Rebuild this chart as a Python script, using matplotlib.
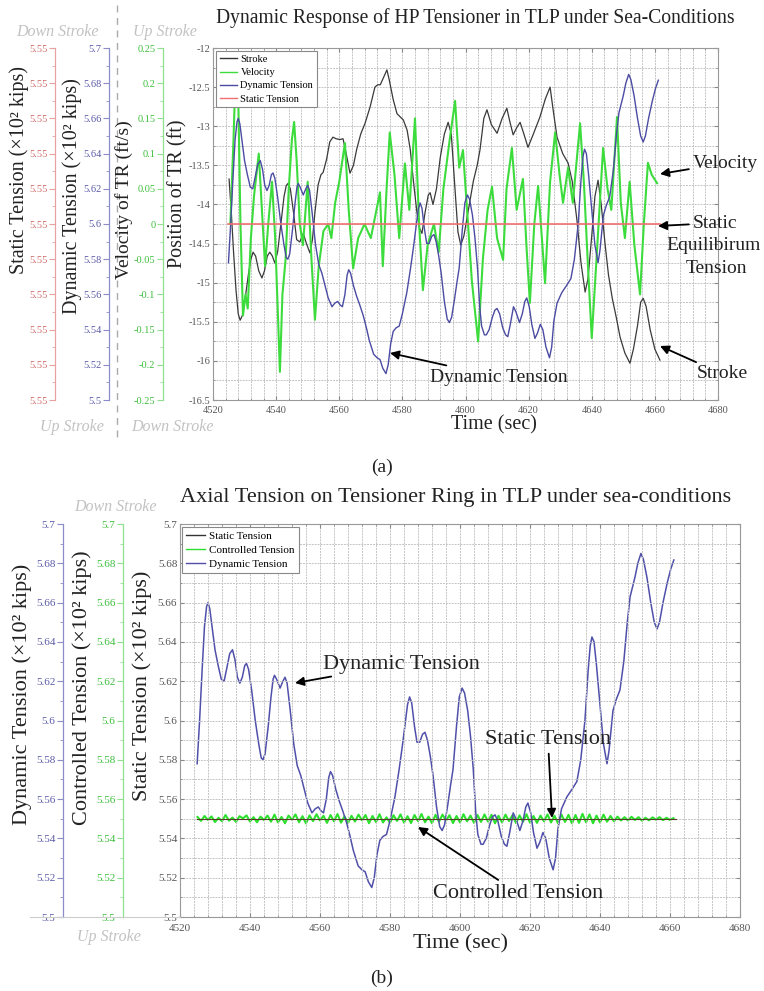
import matplotlib
matplotlib.use('Agg')
import matplotlib.pyplot as plt
import numpy as np
from matplotlib.ticker import MultipleLocator, FuncFormatter, FixedLocator
from matplotlib.lines import Line2D

plt.rcParams['font.family'] = ['Liberation Serif', 'DejaVu Serif']
plt.rcParams['axes.unicode_minus'] = False

W, H = 764, 991
fig = plt.figure(figsize=(W / 100, H / 100), dpi=100)

# ---------------- data ----------------
TIME_TICKS = [4520, 4540, 4560, 4580, 4600, 4620, 4640, 4660, 4680]

STROKE_T = [4525.1, 4525.8, 4526.5, 4527.3, 4528.0, 4528.6, 4529.3, 4530.2, 4531.2, 4532.0,
            4532.7, 4533.5, 4534.5, 4535.5, 4536.3, 4537.2, 4538.0, 4538.8, 4539.6, 4540.5,
            4541.5, 4542.5, 4543.2, 4543.8, 4544.5, 4545.5, 4546.5, 4547.5, 4548.6, 4549.6,
            4550.7, 4551.5, 4552.3, 4553.3, 4554.2, 4554.9, 4556.0, 4557.0, 4558.0, 4559.0,
            4560.2, 4561.2, 4562.2, 4563.4, 4564.5, 4565.5, 4566.8, 4568.2, 4569.8, 4571.3,
            4572.2, 4573.0, 4574.0, 4575.1, 4575.8, 4577.1, 4578.3, 4579.3, 4580.3, 4581.5,
            4582.5, 4583.5, 4584.6, 4585.4, 4586.2, 4587.2, 4588.2, 4588.8, 4589.7, 4590.8,
            4592.0, 4593.3, 4594.5, 4595.5, 4596.5, 4597.6, 4598.5, 4599.5, 4601.0, 4602.5,
            4603.7, 4604.6, 4605.8, 4606.8, 4608.2, 4610.0, 4611.6, 4613.1, 4614.1, 4615.1,
            4616.2, 4617.3, 4618.5, 4619.8, 4621.5, 4623.6, 4625.3, 4626.8, 4627.8, 4629.0,
            4630.8, 4632.5, 4633.8, 4635.3, 4636.6, 4637.9, 4638.8, 4640.0, 4641.0, 4642.0,
            4643.0, 4644.2, 4645.3, 4646.5, 4647.8, 4649.0, 4650.5, 4652.1, 4653.2, 4654.5,
            4655.5, 4656.3, 4657.2, 4658.5, 4660.0, 4661.6]
STROKE_FT = [-13.675, -14.1, -14.6, -15.1, -15.4, -15.48, -15.42, -15.2, -14.9, -14.7,
             -14.61, -14.66, -14.85, -14.94, -14.85, -14.66, -14.61, -14.66, -14.75, -14.6,
             -14.25, -13.9, -13.76, -13.73, -13.8, -14.1, -14.45, -14.48, -14.37, -14.5,
             -14.62, -14.45, -14.1, -13.75, -13.62, -13.59, -13.42, -13.2, -13.14, -13.16,
             -13.17, -13.16, -13.35, -13.6, -13.5, -13.3, -13.1, -12.96, -12.75, -12.5,
             -12.47, -12.47, -12.38, -12.28, -12.4, -12.66, -12.84, -12.88, -12.92, -13.05,
             -13.3, -13.7, -14.1, -14.3, -14.37, -14.1, -13.88, -13.85, -14.0, -13.8,
             -13.4, -13.1, -12.95, -13.1, -13.7, -14.35, -14.52, -14.4, -14.05, -13.7,
             -13.5, -13.3, -12.9, -12.79, -12.98, -13.09, -12.9, -12.77, -12.95, -13.11,
             -13.02, -12.95, -13.1, -13.27, -13.1, -12.88, -12.65, -12.5, -12.8, -13.14,
             -13.35, -13.47, -13.7, -14.2, -14.75, -15.12, -14.95, -14.4, -13.9, -13.69,
             -14.0, -14.5, -14.9, -15.2, -15.45, -15.7, -15.9, -16.03, -15.85, -15.55,
             -15.25, -15.2, -15.3, -15.6, -15.85, -15.99]

VEL_T = [4525.5, 4526.5, 4527.3, 4528.0, 4528.7, 4529.5, 4530.3, 4531.0, 4532.0, 4533.0,
         4534.5, 4535.5, 4536.5, 4537.5, 4538.7, 4539.7, 4540.5, 4541.2, 4542.0, 4543.0,
         4544.0, 4545.0, 4545.7, 4546.5, 4547.5, 4548.5, 4550.0, 4551.2, 4552.3, 4553.5,
         4555.0, 4556.5, 4557.5, 4558.7, 4560.0, 4561.8, 4563.0, 4564.4, 4566.0, 4568.0,
         4570.0, 4572.9, 4573.8, 4575.0, 4576.0, 4577.5, 4579.0, 4580.8, 4582.2, 4584.0,
         4585.3, 4586.5, 4588.0, 4590.0, 4591.5, 4593.0, 4595.0, 4596.7, 4598.0, 4599.2,
         4600.5, 4602.0, 4604.0, 4605.5, 4607.0, 4608.4, 4610.0, 4611.9, 4613.0, 4614.7,
         4616.2, 4618.2, 4619.3, 4620.4, 4621.8, 4623.0, 4624.2, 4625.2, 4626.8, 4628.4,
         4629.8, 4630.9, 4632.5, 4634.0, 4636.3, 4637.5, 4638.8, 4640.0, 4641.5, 4643.6,
         4645.0, 4646.2, 4648.0, 4649.2, 4650.5, 4652.0, 4653.5, 4655.3, 4656.5, 4657.8,
         4659.0, 4660.7]
VEL_FTS = [0.0, 0.12, 0.24, 0.18, 0.0, -0.13, -0.10, -0.12, -0.02, 0.04,
           0.10, 0.02, -0.06, 0.0, 0.06, -0.02, -0.12, -0.21, -0.10, -0.05,
           0.05, 0.12, 0.145, 0.09, 0.0, -0.03, 0.06, -0.05, -0.136, -0.06,
           -0.01, 0.0, -0.02, 0.03, 0.06, 0.115, 0.02, -0.063, -0.02, 0.0,
           -0.02, 0.045, -0.06, 0.05, 0.13, 0.07, -0.02, 0.086, 0.02, 0.15,
           0.0, -0.094, -0.03, 0.0, -0.04, 0.05, 0.12, 0.175, 0.08, 0.105,
           0.02, -0.08, -0.167, -0.05, 0.02, 0.053, -0.02, -0.051, 0.05, 0.108,
           0.02, 0.064, -0.03, -0.112, 0.0, 0.054, -0.02, -0.084, 0.06, 0.13,
           0.07, 0.03, 0.08, 0.03, 0.143, 0.06, -0.06, -0.162, -0.05, 0.108,
           0.05, 0.02, 0.152, 0.03, -0.02, 0.06, -0.03, -0.10, 0.0, 0.087,
           0.07, 0.058]

DYN_T = [4524.9, 4525.6, 4526.3, 4527.0, 4527.6, 4528.0, 4528.5, 4529.2, 4530.0, 4530.9,
         4531.8, 4532.6, 4533.3, 4534.2, 4535.0, 4535.7, 4536.4, 4537.1, 4537.8, 4538.5,
         4539.0, 4539.6, 4540.5, 4541.5, 4542.5, 4543.2, 4543.7, 4544.3, 4545.2, 4546.0,
         4546.6, 4547.0, 4547.6, 4548.6, 4549.4, 4550.0, 4550.6, 4551.5, 4552.5, 4553.5,
         4554.5, 4555.5, 4556.5, 4557.7, 4558.6, 4559.5, 4560.3, 4561.0, 4561.8, 4562.5,
         4563.0, 4563.6, 4564.5, 4565.5, 4566.5, 4567.6, 4568.6, 4569.5, 4570.9, 4572.0,
         4572.9, 4573.8, 4574.8, 4575.5, 4576.3, 4577.1, 4578.0, 4579.0, 4580.0, 4581.4,
         4582.6, 4583.6, 4584.3, 4585.0, 4585.6, 4586.2, 4587.0, 4587.7, 4588.5, 4589.3,
         4590.0, 4590.7, 4591.5, 4592.3, 4593.3, 4594.2, 4594.9, 4595.6, 4596.5, 4597.3,
         4598.0, 4599.0, 4599.8, 4600.6, 4601.3, 4602.2, 4603.0, 4603.8, 4604.5, 4605.1,
         4606.0, 4606.6, 4607.5, 4608.5, 4609.3, 4610.0, 4610.8, 4611.8, 4612.7, 4613.4,
         4614.2, 4615.2, 4616.0, 4617.1, 4618.0, 4618.8, 4619.4, 4620.2, 4621.0, 4622.0,
         4622.8, 4623.7, 4624.5, 4625.5, 4626.6, 4627.3, 4628.0, 4629.0, 4630.5, 4632.0,
         4633.4, 4634.5, 4635.7, 4636.6, 4637.2, 4637.7, 4638.3, 4639.0, 4640.0, 4641.0,
         4642.0, 4642.6, 4643.7, 4644.7, 4645.7, 4646.8, 4647.8, 4648.6, 4649.3, 4650.0,
         4650.8, 4651.7, 4652.4, 4653.4, 4654.5, 4655.5, 4656.3, 4657.0, 4658.0, 4659.2,
         4660.2, 4661.1]
DYN_KIPS100 = [5.578, 5.600, 5.625, 5.648, 5.658, 5.660, 5.657, 5.647, 5.636, 5.628,
               5.621, 5.620, 5.626, 5.634, 5.636, 5.631, 5.622, 5.619, 5.622, 5.628,
               5.629, 5.626, 5.615, 5.600, 5.588, 5.581, 5.580, 5.583, 5.597, 5.612,
               5.621, 5.623, 5.621, 5.6165, 5.620, 5.622, 5.619, 5.605, 5.588, 5.577,
               5.572, 5.565, 5.558, 5.553, 5.555, 5.556, 5.554, 5.553, 5.560, 5.571,
               5.574, 5.572, 5.565, 5.559, 5.554, 5.548, 5.541, 5.534, 5.526, 5.524,
               5.523, 5.518, 5.515, 5.520, 5.532, 5.539, 5.541, 5.542, 5.549, 5.561,
               5.575, 5.588, 5.598, 5.608, 5.612, 5.609, 5.597, 5.589, 5.589, 5.593,
               5.594, 5.590, 5.582, 5.572, 5.556, 5.546, 5.544, 5.547, 5.557, 5.567,
               5.575, 5.597, 5.612, 5.6165, 5.614, 5.605, 5.592, 5.575, 5.553, 5.542,
               5.537, 5.537, 5.540, 5.547, 5.551, 5.552, 5.549, 5.541, 5.537, 5.536,
               5.543, 5.553, 5.550, 5.544, 5.549, 5.556, 5.558, 5.553, 5.543, 5.535,
               5.538, 5.543, 5.540, 5.530, 5.524, 5.530, 5.545, 5.555, 5.561, 5.565,
               5.569, 5.580, 5.600, 5.625, 5.638, 5.6425, 5.640, 5.628, 5.608, 5.588,
               5.578, 5.585, 5.605, 5.611, 5.6155, 5.630, 5.650, 5.663, 5.668, 5.673,
               5.680, 5.685, 5.682, 5.673, 5.660, 5.650, 5.6466, 5.650, 5.660, 5.670,
               5.677, 5.6817]

STATIC_T = [4524.8, 4661.6]
STATIC_KIPS100 = [5.55, 5.55]

CTRL_T0, CTRL_DT = 4525, 1.0
CTRL_DEV_1E3 = [0.9, -1.1, 1.4, -0.6, 1.2, -1.7, 0.5, -1.3, 1.9, -1.0, 0.6, -1.6, 1.3, 0.2, 1.7, -1.4, 0.8, -1.8, 1.1, -0.7, 1.6,
                -1.5, 2.1, -1.9, 0.9, -2.3, 1.6, -0.4, 2.2, -1.8, 1.3, -2.4, 1.7, -1.2, 2.3, -0.9, 1.5, -2.1, 1.9, -1.3, 2.4,
                -2.0, 1.2, -2.2, 1.5, -1.4, 2.1, -0.8, 1.9, -2.3, 1.4, -1.7, 2.3, -1.9, 0.7, -2.1, 1.8, -1.1, 2.2, -2.0, 1.3,
                -2.2, 1.9, -1.2, 2.4, -1.8, 1.1, -2.3, 2.0, -1.5, 2.1, -0.9, 1.8, -2.2, 1.4, -1.9, 2.3, -1.3, 1.6, -2.1, 1.9,
                -1.6, 2.2, -1.4, 2.0, -2.3, 1.5, -1.9, 2.1, -1.2, 1.8, -2.2, 1.7, -1.5, 2.3, -2.0, 1.4, -2.1, 1.6, -1.3, 2.2,
                -1.9, 1.5, -2.3, 2.1, -1.6, 2.0, -2.4, 1.9, -2.1, 2.5, -1.8, 2.2, -2.3, 1.6, -1.9, 2.1, -1.5, 1.4, -1.3, 1.1,
                -0.9, 0.8, -0.9, 1.0, -0.6, 0.8, -1.0, 0.5, -0.8, 0.7, -0.5, 0.8, -0.7, 0.5, -0.6, 0.3]
CTRL_T = [CTRL_T0 + i * CTRL_DT for i in range(len(CTRL_DEV_1E3))]
CTRL_KIPS100 = [5.55 + d / 1000.0 for d in CTRL_DEV_1E3]

# ---------------- styles ----------------
C_STROKE = '#3a3a3a'
C_VEL = '#3ddc3d'
C_DYN = '#4b4ba3'
C_STAT = '#f07070'
GRID_KW = dict(color='#c4c4c4', lw=0.7, ls=(0, (2, 1)))
TXT = '#222222'


def rect(l, t, r, b):
    return [l / W, 1 - b / H, (r - l) / W, (b - t) / H]


def fmt_g(v, pos=None):
    return '%g' % round(v, 3)


def style_main(ax, ymaj, ymin):
    ax.set_xlim(4520, 4680)
    ax.xaxis.set_major_locator(FixedLocator(TIME_TICKS))
    ax.xaxis.set_minor_locator(MultipleLocator(4))
    ax.yaxis.set_major_locator(MultipleLocator(ymaj))
    ax.yaxis.set_minor_locator(MultipleLocator(ymin))
    ax.yaxis.set_major_formatter(FuncFormatter(fmt_g))
    ax.grid(which='both', **GRID_KW)
    ax.set_axisbelow(True)
    for s in ax.spines.values():
        s.set_color('#999999')
        s.set_linewidth(0.8)


def side_axis(ax, off, color, tcolor, lim, major, minor, fmt=fmt_g, ticks=None, mticks=None):
    tw = ax.twinx()
    tw.set_ylim(*lim)
    for k in ('right', 'top', 'bottom'):
        tw.spines[k].set_visible(False)
    tw.spines['left'].set_visible(True)
    tw.spines['left'].set_position(('axes', off))
    tw.spines['left'].set_color(color)
    tw.spines['left'].set_linewidth(0.9)
    tw.yaxis.set_ticks_position('left')
    tw.yaxis.set_label_position('left')
    if ticks is not None:
        tw.yaxis.set_major_locator(FixedLocator(ticks))
        tw.yaxis.set_minor_locator(FixedLocator(mticks))
    else:
        tw.yaxis.set_major_locator(MultipleLocator(major))
        tw.yaxis.set_minor_locator(MultipleLocator(minor))
    tw.yaxis.set_major_formatter(FuncFormatter(fmt))
    tw.tick_params(axis='y', which='major', direction='out', length=4, color=color,
                   labelcolor=tcolor, labelsize=7.5, pad=1.5)
    tw.tick_params(axis='y', which='minor', direction='out', length=2.5, color=color)
    return tw


def ftext(x, y, s, **kw):
    fig.text(x / W, 1 - y / H, s, **kw)


def arrow(ax, text, txy, hxy, **kw):
    ax.annotate(text, xy=(hxy[0], H - hxy[1]), xycoords='figure pixels',
                xytext=(txy[0], H - txy[1]), textcoords='figure pixels',
                arrowprops=dict(arrowstyle='-|>', color='black', lw=1.3,
                                mutation_scale=13, shrinkA=1, shrinkB=0),
                color=TXT, **kw)


# ================= panel (a) =================
axA = fig.add_axes(rect(213, 48, 718, 400))
style_main(axA, 0.5, 0.25)
axA.set_ylim(-16.5, -12)

AW = 505.0
vA = side_axis(axA, (163 - 213) / AW, '#8fe08f', '#3cbf3c', (-0.25, 0.25), 0.05, 0.025)
dA = side_axis(axA, (109 - 213) / AW, '#8c8cc8', '#5a5aa8', (5.5, 5.7), 0.02, 0.01)
s_lo, s_hi = 5.5496, 5.5504
s_ticks = list(np.linspace(s_lo, s_hi, 11))
s_mticks = list(np.linspace(s_lo, s_hi, 21))
sA = side_axis(axA, (55 - 213) / AW, '#e8a0a0', '#d06a6a', (s_lo, s_hi), None, None,
               fmt=lambda v, p=None: '%.2f' % v, ticks=s_ticks, mticks=s_mticks)

axA.tick_params(which='both', direction='in', top=True, right=True, labelsize=7.5,
                labelcolor='#555555', color='#888888', pad=2)
axA.tick_params(axis='x', which='both', pad=4.5)
axA.tick_params(which='major', length=3)
axA.tick_params(which='minor', length=1.5)

axA.plot(STROKE_T, STROKE_FT, color=C_STROKE, lw=0.9, zorder=3)
vA.plot(VEL_T, VEL_FTS, color=C_VEL, lw=1.5, zorder=3)
dA.plot(DYN_T, DYN_KIPS100, color=C_DYN, lw=1.0, zorder=3)
sA.plot(STATIC_T, STATIC_KIPS100, color=C_STAT, lw=1.2, zorder=3)

handles = [Line2D([], [], color='#333333', lw=1), Line2D([], [], color=C_VEL, lw=1),
           Line2D([], [], color=C_DYN, lw=1), Line2D([], [], color=C_STAT, lw=1)]
legA = sA.legend(handles, ['Stroke', 'Velocity', 'Dynamic Tension', 'Static Tension'],
                 loc='upper left', bbox_to_anchor=(216 / W, 1 - 51 / H), bbox_transform=fig.transFigure,
                 fontsize=7.5, handlelength=1.7, handletextpad=0.3, labelspacing=0.38,
                 borderpad=0.35, borderaxespad=0, fancybox=False, framealpha=1, edgecolor='#888888')
legA.get_frame().set_linewidth(0.8)

ftext(475, 18, 'Dynamic Response of HP Tensioner in TLP under Sea-Conditions', fontsize=14.1,
      ha='center', va='center', color=TXT)
ftext(494, 425, 'Time (sec)', fontsize=14.5, ha='center', va='center', color=TXT)
YL_A = dict(fontsize=14.5, rotation=90, ha='center', va='center', color=TXT)
ftext(19, 170, 'Static Tension (×10² kips)', **YL_A)
ftext(72, 196, 'Dynamic Tension (×10² kips)', **YL_A)
ftext(124, 200, 'Velocity of TR (ft/s)', fontsize=14, rotation=90, ha='center', va='center', color=TXT)
ftext(178, 194, 'Position of TR (ft)', **YL_A)

STROKE_LBL = dict(fontsize=11.5, style='italic', color='#c2c2c2', ha='center', va='center')
ftext(57, 32, 'Down Stroke', **STROKE_LBL)
ftext(165, 32, 'Up Stroke', **STROKE_LBL)
ftext(72, 427, 'Up Stroke', **STROKE_LBL)
ftext(172, 427, 'Down Stroke', **STROKE_LBL)
fig.add_artist(Line2D([117 / W, 117 / W], [1 - 5 / H, 1 - 442 / H], transform=fig.transFigure,
                      color='#aaaaaa', lw=1.0, ls=(0, (5, 4))))

arrow(sA, 'Velocity', (693, 163), (660, 174), fontsize=14, ha='left', va='center')
arrow(sA, 'Static', (693, 223), (658, 226), fontsize=14, ha='left', va='center')
ftext(714, 246, 'Equilibirum', fontsize=14, ha='center', va='center', color=TXT)
ftext(716, 268, 'Tension', fontsize=14, ha='center', va='center', color=TXT)
arrow(sA, 'Stroke', (697, 374), (660, 346), fontsize=14, ha='left', va='center')
arrow(sA, 'Dynamic Tension', (430, 377), (390, 353), fontsize=14, ha='left', va='center')

ftext(382, 467, '(a)', fontsize=14, ha='center', va='center', color=TXT)

# ================= panel (b) =================
axB = fig.add_axes(rect(180, 524, 740, 917))
style_main(axB, 0.02, 0.01)
axB.set_ylim(5.5, 5.7)
BW = 560.0
cB = side_axis(axB, (123 - 180) / BW, '#8fe08f', '#3cbf3c', (5.5, 5.7), 0.02, 0.01)
dB = side_axis(axB, (63 - 180) / BW, '#8c8cc8', '#5a5aa8', (5.5, 5.7), 0.02, 0.01)
for tw in (cB, dB):
    tw.tick_params(axis='y', labelsize=8)
axB.tick_params(which='both', direction='in', top=True, right=True, labelsize=8,
                labelcolor='#555555', color='#888888', pad=2)
axB.tick_params(axis='x', which='both', pad=5)
axB.tick_params(which='major', length=3)
axB.tick_params(which='minor', length=1.5)

cB.plot(CTRL_T, CTRL_KIPS100, color='#2ee02e', lw=1.5, zorder=3)
axB.plot(STATIC_T, STATIC_KIPS100, color='#5a3a2a', lw=0.8, zorder=4)
dB.plot(DYN_T, DYN_KIPS100, color='#5050aa', lw=1.1, zorder=3)
axB.set_zorder(dB.get_zorder() + 1)
axB.patch.set_visible(False)

handlesB = [Line2D([], [], color='#333333', lw=1), Line2D([], [], color='#2ee02e', lw=1),
            Line2D([], [], color='#5050aa', lw=1)]
legB = axB.legend(handlesB, ['Static Tension', 'Controlled Tension', 'Dynamic Tension'],
                  loc='upper left', bbox_to_anchor=(182 / W, 1 - 527 / H), bbox_transform=fig.transFigure,
                  fontsize=8, handlelength=1.7, handletextpad=0.3, labelspacing=0.35,
                  borderpad=0.4, borderaxespad=0, fancybox=False, framealpha=1, edgecolor='#888888')
legB.get_frame().set_linewidth(0.8)

ftext(456, 497, 'Axial Tension on Tensioner Ring in TLP under sea-conditions', fontsize=16,
      ha='center', va='center', color=TXT)
ftext(461, 944, 'Time (sec)', fontsize=16, ha='center', va='center', color=TXT)
YL_B = dict(fontsize=16, rotation=90, ha='center', va='center', color=TXT)
ftext(22, 694, 'Dynamic Tension (×10² kips)', **YL_B)
ftext(82, 688, 'Controlled Tension (×10² kips)', **YL_B)
ftext(142, 686, 'Static Tension (×10² kips)', **YL_B)
ftext(115, 507, 'Down Stroke', **STROKE_LBL)
ftext(109, 937, 'Up Stroke', **STROKE_LBL)
fig.add_artist(Line2D([30 / W, 180 / W], [1 - 917 / H, 1 - 917 / H], transform=fig.transFigure,
                      color='#cccccc', lw=0.8))

arrow(axB, 'Dynamic Tension', (323, 664), (295, 683), fontsize=16, ha='left', va='center')
arrow(axB, 'Static Tension', (548, 740), (552, 818), fontsize=16, ha='center', va='center')
arrow(axB, 'Controlled Tension', (518, 893), (418, 827), fontsize=16, ha='center', va='center')

ftext(382, 978, '(b)', fontsize=14, ha='center', va='center', color=TXT)

fig.savefig('out.png', dpi=100, facecolor='white')
